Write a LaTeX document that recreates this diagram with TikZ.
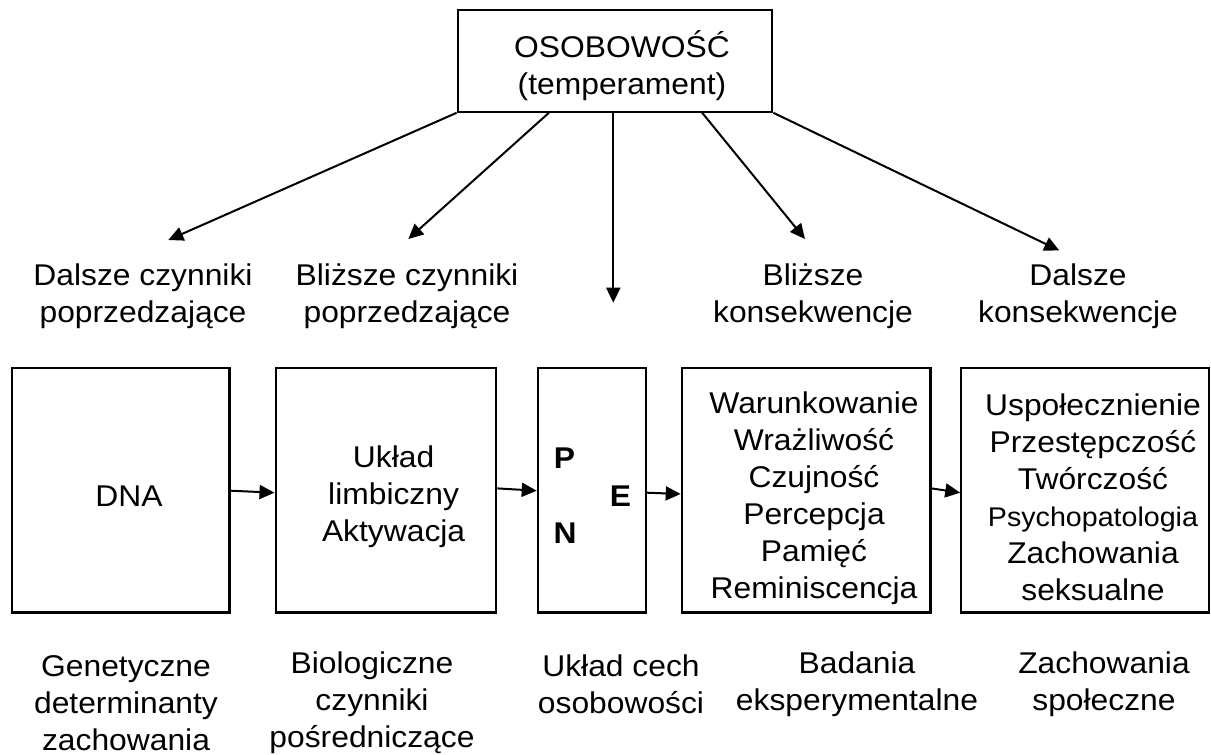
\documentclass[tikz,border=0pt]{standalone}
\usepackage{fontspec}
\setmainfont{Liberation Sans}[FakeStretch=1.06]
\usetikzlibrary{arrows.meta,calc}
\tikzset{
  box/.style={draw=black, line width=2.2pt, rectangle, inner sep=0pt, fill=white},
  txt/.style={font=\fontsize{30}{37}\selectfont, align=center, inner sep=0pt},
  bold/.style={font=\fontsize{30}{37}\selectfont\bfseries, inner sep=0pt},
  arr/.style={line width=2pt, -{Triangle[length=15pt,width=14pt]}},
}
\begin{document}
\begin{tikzpicture}[x=1pt,y=-1pt]
\useasboundingbox (0,0) rectangle (1211,755);
% top box
\node[box, minimum width=314.6pt, minimum height=101.7pt] (top) at (615,60.85) {};
\node[txt] (topT) at (622,65.5) {OSOBOWOŚĆ\\(temperament)};
% lower boxes
\node[box, minimum width=217.8pt, minimum height=244.2pt] (dna) at (120.6,490.4) {};
\node[box, minimum width=220.6pt, minimum height=244.2pt] (limb) at (385.9,490.4) {};
\node[box, minimum width=108.2pt, minimum height=244.2pt] (pne) at (591.9,490.4) {};
\node[box, minimum width=248.7pt, minimum height=244.2pt] (cons1) at (806.15,490.4) {};
\node[box, minimum width=247.9pt, minimum height=244.2pt] (cons2) at (1085.3,490.4) {};
% box texts
\node[txt] (dnaT) at (129,496) {DNA};
\node[txt] (limbT) at (393.6,497) {Układ\\limbiczny\\Aktywacja};
\node[bold] (P) at (564.5,458) {P};
\node[bold] (N) at (565,533) {N};
\node[bold] (E) at (620.5,496) {E};
\node[txt] (cons1T) at (814,498) {Warunkowanie\\Wrażliwość\\Czujność\\Percepcja\\Pamięć\\Reminiscencja};
\node[txt] (cons2T) at (1093,497) {Uspołecznienie\\Przestępczość\\Twórczość\\{\fontsize{27}{37}\selectfont Psychopatologia}\\Zachowania\\seksualne};
% upper labels
\node[txt] (l1) at (143,296) {Dalsze czynniki\\poprzedzające};
\node[txt] (l2) at (407,296) {Bliższe czynniki\\poprzedzające};
\node[txt] (l4) at (813,296) {Bliższe\\konsekwencje};
\node[txt] (l5) at (1078,296) {Dalsze\\konsekwencje};
% lower labels
\node[txt] (b1) at (126,703) {Genetyczne\\determinanty\\zachowania};
\node[txt] (b2) at (372,703) {Biologiczne\\czynniki\\pośredniczące};
\node[txt] (b3) at (621,684) {Układ cech\\osobowości};
\node[txt] (b4) at (857,684) {Badania\\eksperymentalne};
\node[txt] (b5) at (1104,684) {Zachowania\\społeczne};
% arrow tips
\coordinate (t1) at (168.3,240);
\coordinate (t2) at (408.3,239);
\coordinate (t3) at (613.3,302.7);
\coordinate (t4) at (805,239);
\coordinate (t5) at (1059.3,250.5);
% top arrows
\draw[arr] (top.south west) -- (t1);
\draw[arr] ($(top.south west)+(92.3,0)$) -- (t2);
\draw[arr] ($(top.south)+(-1.7,0)$) -- (t3);
\draw[arr] ($(top.south west)+(245.6,0)$) -- (t4);
\draw[arr] (top.south east) -- (t5);
% horizontal arrows
\draw[arr] ($(dna.east)+(0,0.3)$) -- ($(limb.west)+(0,2.3)$);
\draw[arr] ($(limb.east)+(0,-2)$) -- ($(pne.west)+(0,0.3)$);
\draw[arr] ($(pne.east)+(0,2.3)$) -- ($(cons1.west)+(0,3.6)$);
\draw[arr] ($(cons1.east)+(0,-2)$) -- ($(cons2.west)+(0,2.3)$);
\end{tikzpicture}
\end{document}
